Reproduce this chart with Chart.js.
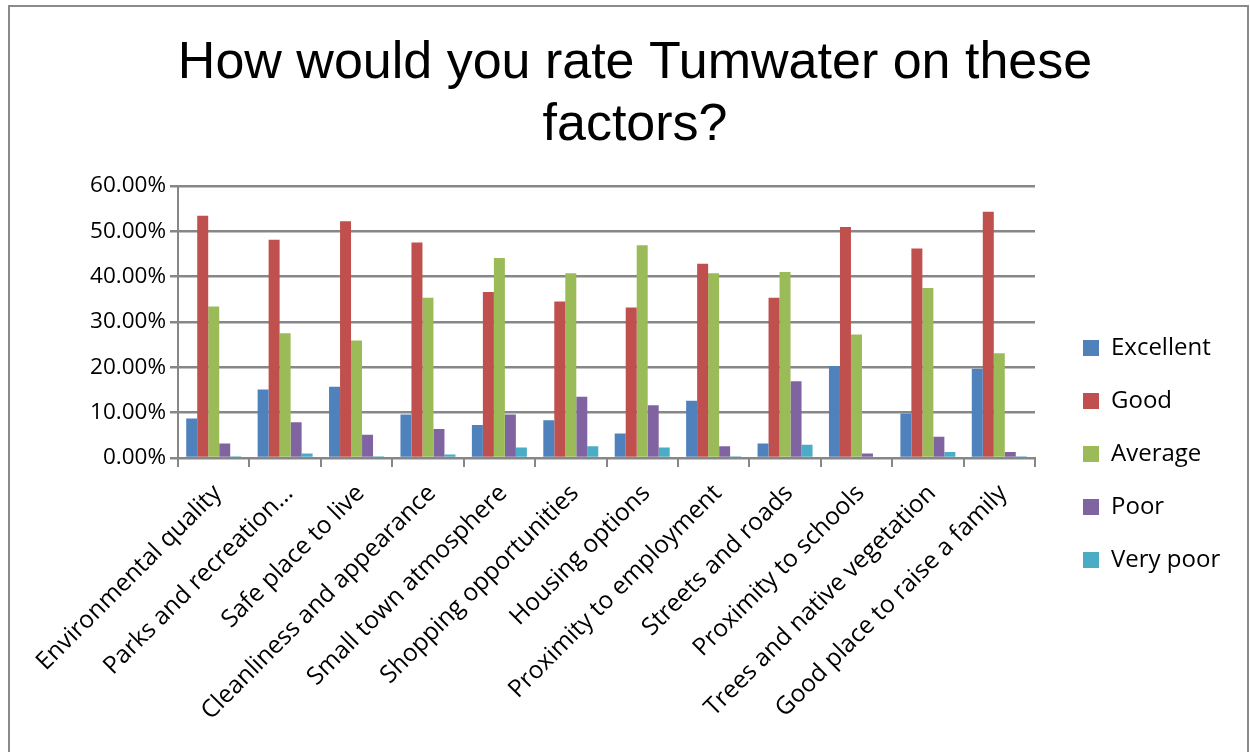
<!DOCTYPE html>
<html>
<head>
<meta charset="utf-8">
<script src="https://cdn.jsdelivr.net/npm/chart.js@4.4.1/dist/chart.umd.min.js"></script>
<style>
  html, body { margin: 0; padding: 0; background: #fff; }
  #frame { position: absolute; left: 8px; top: 5px; width: 1237px; height: 760px;
           border-left: 2px solid #8a8a8a; border-top: 2px solid #8a8a8a; border-right: 2px solid #8a8a8a; }
  #wrap { position: absolute; left: 0; top: 0; width: 1250px; height: 752px; }
</style>
</head>
<body>
<div id="frame"></div>
<div id="wrap"><canvas id="c" width="1250" height="752"></canvas></div>
<script>
const categories = [
  "Environmental quality", "Parks and recreation...", "Safe place to live",
  "Cleanliness and appearance", "Small town atmosphere", "Shopping opportunities",
  "Housing options", "Proximity to employment", "Streets and roads",
  "Proximity to schools", "Trees and native vegetation", "Good place to raise a family"
];
const excellent = [8.7, 15.1, 15.7, 9.6, 7.3, 8.3, 5.4, 12.6, 3.2, 20.3, 9.8, 19.7];
const good      = [53.4, 48.1, 52.2, 47.5, 36.6, 34.5, 33.2, 42.8, 35.3, 50.9, 46.2, 54.3];
const average   = [33.4, 27.5, 25.9, 35.3, 44.1, 40.7, 46.9, 40.7, 41.0, 27.2, 37.5, 23.1];
const poor      = [3.2, 7.9, 5.1, 6.4, 9.6, 13.5, 11.6, 2.6, 16.9, 1.0, 4.7, 1.3];
const veryPoor  = [0.4, 1.0, 0.4, 0.75, 2.3, 2.6, 2.3, 0.4, 2.9, 0.0, 1.3, 0.4];
const seriesNames = ["Excellent", "Good", "Average", "Poor", "Very poor"];
const yTicks = [0, 10, 20, 30, 40, 50, 60];

const colors = ["#4F81BD", "#C0504D", "#9BBB59", "#8064A2", "#4BACC6"];
const seriesData = [excellent, good, average, poor, veryPoor];
const TFONT = "'Liberation Sans', Arial, sans-serif";
const FONT = "'Open Sans', sans-serif";
const LEG_PAD = 29;

const legendPlacer = {
  id: 'legendPlacer',
  beforeLayout(chart) {
    const L = chart.legend;
    if (L && !L._patched) {
      const f = L.fit.bind(L);
      L.fit = function () { f(); this.width = 1250 - 1035; };
      L._patched = true;
    }
  },
  afterLayout(chart) {
    const L = chart.legend;
    const w = L.right - L.left, h = L.bottom - L.top;
    L.left = 1083 - LEG_PAD; L.right = L.left + w;
    L.top = 307; L.bottom = L.top + h;
  }
};

new Chart(document.getElementById('c'), {
  type: 'bar',
  data: {
    labels: categories,
    datasets: seriesNames.map((n, i) => ({
      label: n, data: seriesData[i], backgroundColor: colors[i],
      borderWidth: 0, categoryPercentage: 0.77, barPercentage: 1.0
    }))
  },
  plugins: [legendPlacer],
  options: {
    responsive: false, animation: false,
    layout: { padding: { left: 20, right: 0, top: 32, bottom: 0 } },
    plugins: {
      title: {
        display: true,
        text: ["How would you rate Tumwater on these", "factors?"],
        color: '#000', font: { family: TFONT, size: 52, weight: 'normal' },
        lineHeight: 1.15, padding: { top: 0, bottom: 29 }
      },
      legend: {
        position: 'right', align: 'start',
        labels: {
          color: '#000', font: { family: FONT, size: 24 },
          boxWidth: 16, boxHeight: 16, padding: LEG_PAD
        }
      },
      tooltip: { enabled: false }
    },
    scales: {
      x: {
        grid: { drawOnChartArea: false, drawTicks: true, tickLength: 9, color: '#878787', lineWidth: 2 },
        border: { color: '#878787', width: 2 },
        ticks: { color: '#000', font: { family: FONT, size: 24.5 }, minRotation: 45, maxRotation: 45, autoSkip: false, padding: 12, labelOffset: 4 },
        afterFit: s => { s.height = 294; }
      },
      y: {
        min: 0, max: 60,
        afterBuildTicks: s => { s.ticks = yTicks.map(v => ({ value: v })); },
        grid: { color: '#878787', lineWidth: 2.5, tickLength: 8 },
        border: { color: '#878787', width: 2 },
        ticks: { color: '#000', font: { family: FONT, size: 22.5 }, padding: 4,
                 callback: v => v.toFixed(2) + '%' },
        afterFit: s => { s.width = 158; }
      }
    }
  }
});
</script>
</body>
</html>
